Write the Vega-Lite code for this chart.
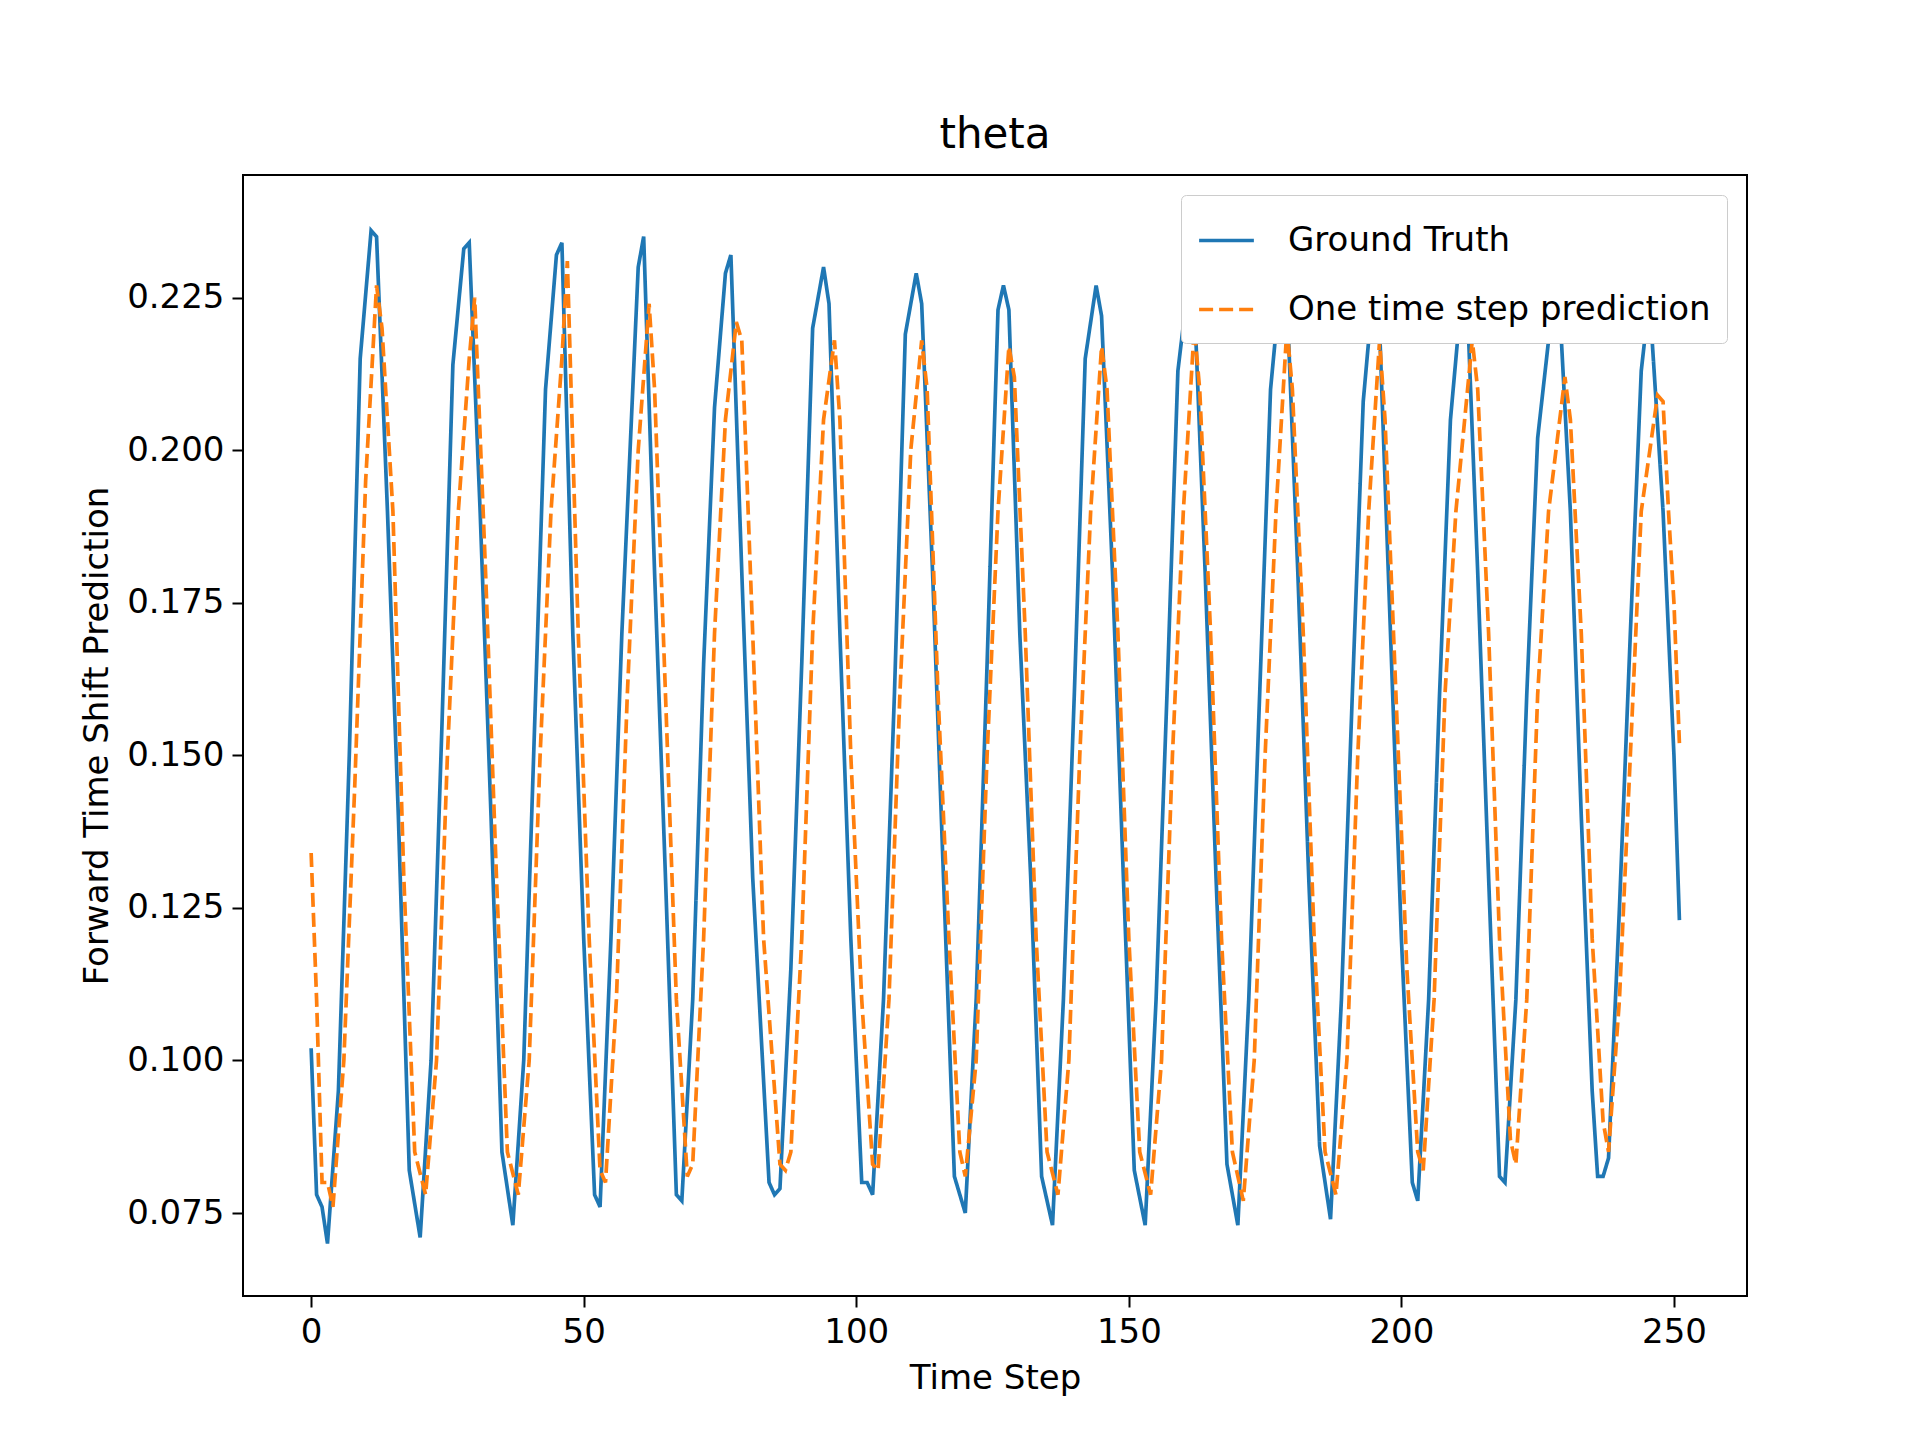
{
  "$schema": "https://vega.github.io/schema/vega-lite/v6.json",
  "autosize": "none",
  "width": 1504,
  "height": 1121,
  "padding": {"left": 243, "top": 175, "right": 173, "bottom": 144},
  "background": "white",
  "title": {"text": "theta", "fontSize": 42, "font": "DejaVu Sans", "fontWeight": "normal", "offset": 18},
  "datasets": {
    "gt": [[0,0.102],[1,0.078],[2,0.076],[3,0.070],[5,0.095],[7,0.150],[9,0.215],[11,0.236],[12,0.235],[14,0.19],[16,0.14],[18,0.082],[20,0.071],
      [22,0.10],[24,0.155],[26,0.214],[28,0.233],[29,0.234],[31,0.19],[33,0.14],[35,0.085],[37,0.073],
      [39,0.10],[41,0.155],[43,0.21],[45,0.232],[46,0.234],[48,0.17],[50,0.12],[52,0.078],[53,0.076],
      [55,0.12],[57,0.17],[59,0.21],[60,0.23],[61,0.235],[63,0.18],[65,0.13],[67,0.078],[68,0.077],
      [70,0.11],[72,0.165],[74,0.207],[76,0.229],[77,0.232],[79,0.18],[81,0.13],[84,0.080],[85,0.078],[86,0.079],
      [88,0.115],[90,0.165],[92,0.22],[94,0.230],[95,0.224],[97,0.17],[99,0.12],[101,0.080],[102,0.080],[103,0.078],
      [105,0.11],[107,0.16],[109,0.219],[111,0.229],[112,0.224],[114,0.18],[116,0.13],[118,0.081],[119,0.078],[120,0.075],
      [122,0.11],[124,0.165],[126,0.223],[127,0.227],[128,0.223],[130,0.17],[132,0.13],[134,0.081],[136,0.073],
      [138,0.11],[140,0.16],[142,0.215],[144,0.227],[145,0.222],[147,0.18],[149,0.13],[151,0.082],[153,0.073],
      [155,0.11],[157,0.16],[159,0.213],[161,0.228],[162,0.225],[164,0.18],[166,0.13],[168,0.083],[170,0.073],
      [172,0.11],[174,0.16],[176,0.21],[178,0.229],[179,0.225],[181,0.18],[183,0.13],[185,0.086],[187,0.074],
      [189,0.11],[191,0.16],[193,0.208],[195,0.228],[196,0.22],[198,0.17],[200,0.12],[202,0.080],[203,0.077],
      [205,0.11],[207,0.16],[209,0.205],[211,0.225],[212,0.226],[214,0.18],[216,0.13],[218,0.081],[219,0.080],
      [221,0.11],[223,0.16],[225,0.202],[227,0.218],[229,0.224],[231,0.19],[233,0.14],[235,0.095],[236,0.081],[237,0.081],[238,0.084],
      [240,0.125],[242,0.17],[244,0.213],[245,0.221],[246,0.218],[248,0.19],[250,0.15],[251,0.123]],
    "pred": [[0,0.134],[1,0.11],[2,0.08],[3,0.080],[4,0.076],[6,0.10],[8,0.145],[10,0.195],[12,0.227],[13,0.22],[15,0.19],[17,0.13],[19,0.085],[21,0.078],
      [23,0.10],[25,0.15],[27,0.19],[29,0.215],[30,0.225],[32,0.18],[34,0.13],[36,0.085],[38,0.078],
      [40,0.10],[42,0.15],[44,0.19],[46,0.215],[47,0.231],[49,0.17],[51,0.12],[53,0.082],[54,0.080],
      [56,0.11],[58,0.16],[60,0.20],[62,0.224],[63,0.21],[65,0.16],[67,0.11],[69,0.081],[70,0.083],
      [72,0.12],[74,0.17],[76,0.205],[78,0.221],[79,0.218],[81,0.17],[83,0.12],[86,0.083],[87,0.082],[88,0.085],
      [90,0.12],[92,0.17],[94,0.205],[96,0.218],[97,0.205],[99,0.15],[101,0.11],[103,0.083],[104,0.082],
      [106,0.11],[108,0.16],[110,0.20],[112,0.218],[113,0.21],[115,0.16],[117,0.12],[119,0.085],[120,0.081],
      [122,0.10],[124,0.15],[126,0.19],[128,0.217],[129,0.212],[131,0.17],[133,0.12],[135,0.085],[137,0.078],
      [139,0.10],[141,0.15],[143,0.19],[145,0.217],[146,0.21],[148,0.17],[150,0.12],[152,0.085],[154,0.078],
      [156,0.10],[158,0.15],[160,0.19],[162,0.220],[163,0.21],[165,0.17],[167,0.12],[169,0.085],[171,0.077],
      [173,0.10],[175,0.15],[177,0.19],[179,0.220],[180,0.21],[182,0.17],[184,0.12],[186,0.085],[188,0.078],
      [190,0.10],[192,0.15],[194,0.19],[196,0.218],[197,0.205],[199,0.16],[201,0.115],[203,0.085],[204,0.082],
      [206,0.11],[208,0.16],[210,0.19],[213,0.218],[214,0.21],[216,0.17],[218,0.12],[220,0.087],[221,0.083],
      [223,0.11],[225,0.16],[227,0.19],[230,0.212],[231,0.205],[233,0.17],[235,0.12],[237,0.09],[238,0.085],
      [240,0.11],[242,0.15],[244,0.19],[247,0.209],[248,0.208],[249,0.19],[250,0.175],[251,0.152]]
  },
  "layer": [
    {
      "data": {"name": "gt"},
      "transform": [
        {"calculate": "datum[0]", "as": "step"},
        {"calculate": "datum[1]", "as": "value"},
        {"calculate": "'Ground Truth'", "as": "series"}
      ],
      "mark": {"type": "line", "strokeWidth": 3.7, "clip": true},
      "encoding": {
        "x": {"field": "step", "type": "quantitative"},
        "y": {"field": "value", "type": "quantitative"},
        "color": {"field": "series", "type": "nominal"},
        "strokeDash": {"field": "series", "type": "nominal"}
      }
    },
    {
      "data": {"name": "pred"},
      "transform": [
        {"calculate": "datum[0]", "as": "step"},
        {"calculate": "datum[1]", "as": "value"},
        {"calculate": "' One time step prediction'", "as": "series"}
      ],
      "mark": {"type": "line", "strokeWidth": 3.7, "clip": true},
      "encoding": {
        "x": {"field": "step", "type": "quantitative"},
        "y": {"field": "value", "type": "quantitative"},
        "color": {"field": "series", "type": "nominal"},
        "strokeDash": {"field": "series", "type": "nominal"}
      }
    }
  ],
  "resolve": {"scale": {"color": "shared", "strokeDash": "shared"}},
  "encoding": {
    "x": {
      "field": "step", "type": "quantitative", "title": "Time Step",
      "scale": {"domain": [-12.5, 263.4], "nice": false, "zero": false},
      "axis": {"values": [0, 50, 100, 150, 200, 250], "grid": false, "format": "d"}
    },
    "y": {
      "field": "value", "type": "quantitative", "title": "Forward Time Shift Prediction",
      "scale": {"domain": [0.0614, 0.2451], "nice": false, "zero": false},
      "axis": {"values": [0.075, 0.1, 0.125, 0.15, 0.175, 0.2, 0.225], "grid": false, "format": ".3f"}
    },
    "color": {
      "field": "series", "type": "nominal", "title": null,
      "scale": {"domain": ["Ground Truth", " One time step prediction"], "range": ["#1f77b4", "#ff7f0e"]},
      "legend": {"orient": "top-right", "offset": 20}
    },
    "strokeDash": {
      "field": "series", "type": "nominal", "title": null,
      "scale": {"domain": ["Ground Truth", " One time step prediction"], "range": [[1, 0], [14, 6]]},
      "legend": {"orient": "top-right", "offset": 20}
    }
  },
  "config": {
    "font": "DejaVu Sans",
    "view": {"stroke": "black", "strokeWidth": 2},
    "axis": {
      "labelFont": "DejaVu Sans", "titleFont": "DejaVu Sans",
      "labelFontSize": 34, "titleFontSize": 34, "titleFontWeight": "normal",
      "labelColor": "black", "titleColor": "black",
      "domain": false, "tickColor": "black", "tickSize": 11, "tickWidth": 2,
      "labelPadding": 8, "titlePadding": 12
    },
    "legend": {
      "labelFont": "DejaVu Sans", "labelFontSize": 34, "labelColor": "black", "labelLimit": 0,
      "symbolType": "stroke", "symbolSize": 3000, "symbolStrokeWidth": 3.7,
      "strokeColor": "#cccccc", "fillColor": "white", "padding": 16,
      "rowPadding": 22, "labelOffset": 32, "cornerRadius": 5
    }
  }
}
